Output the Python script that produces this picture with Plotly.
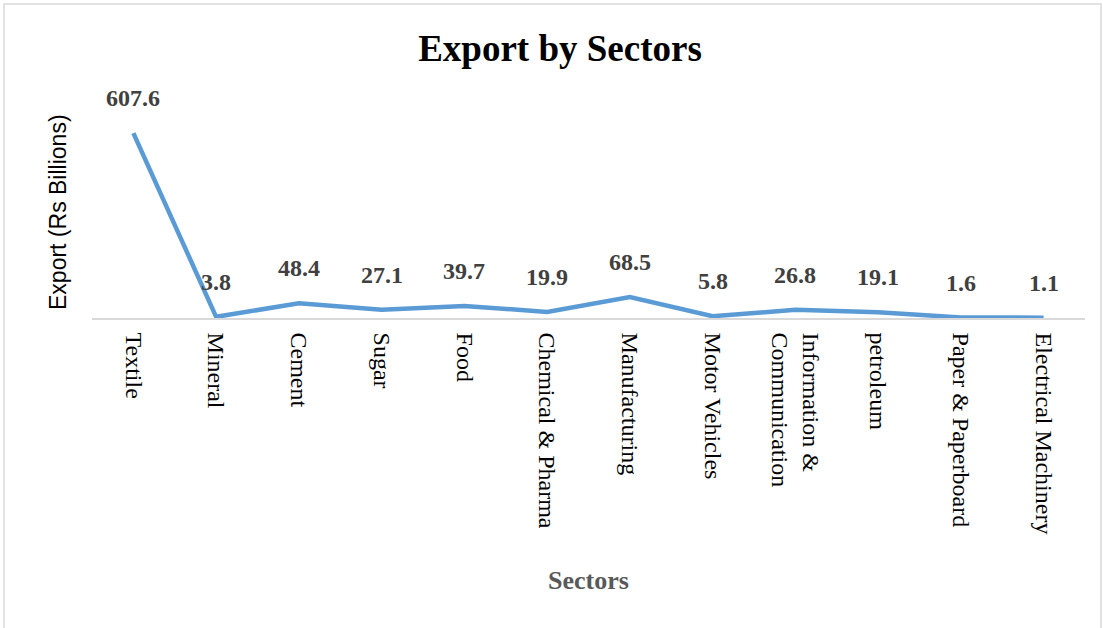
import plotly.graph_objects as go

sectors = [
    "Textile", "Mineral", "Cement", "Sugar", "Food", "Chemical & Pharma",
    "Manufacturing", "Motor Vehicles", "Information &<br>Communication",
    "petroleum", "Paper & Paperboard", "Electrical Machinery",
]
exports = [607.6, 3.8, 48.4, 27.1, 39.7, 19.9, 68.5, 5.8, 26.8, 19.1, 1.6, 1.1]

W, H = 1103, 628
ML, MR, MT, MB = 92, 18, 105, 310
pw, ph = W - ML - MR, H - MT - MB


def px_x(p):
    return (p - ML) / pw


def px_y(p):
    return (H - MB - p) / ph


fig = go.Figure()
fig.add_trace(go.Scatter(
    x=sectors, y=exports, mode="lines",
    line=dict(color="#5B9BD5", width=4.5),
    hoverinfo="x+y",
))

# value labels above each point
for s, v in zip(sectors, exports):
    fig.add_annotation(
        x=s, y=v, text=f"<b>{v}</b>", showarrow=False, yshift=35,
        font=dict(family="Liberation Serif", size=24, color="#404040"),
    )

# axis titles
fig.add_annotation(
    xref="paper", yref="paper", x=px_x(588), y=px_y(580),
    text="<b>Sectors</b>", showarrow=False, xanchor="center", yanchor="middle",
    font=dict(family="Liberation Serif", size=26, color="#595959"),
)
fig.add_annotation(
    xref="paper", yref="paper", x=px_x(58), y=px_y(212),
    text="Export (Rs Billions)", showarrow=False, textangle=-90,
    xanchor="center", yanchor="middle",
    font=dict(family="Liberation Sans", size=23, color="black"),
)

# light frame around the chart area
fig.add_shape(
    type="rect", xref="paper", yref="paper",
    x0=px_x(4), x1=px_x(1101), y0=px_y(700), y1=px_y(4),
    line=dict(color="#D9D9D9", width=1.5), fillcolor="rgba(0,0,0,0)", layer="below",
)

fig.update_layout(
    width=W, height=H,
    margin=dict(l=ML, r=MR, t=MT, b=MB),
    paper_bgcolor="white", plot_bgcolor="white",
    showlegend=False,
    title=dict(
        text="<b>Export by Sectors</b>", x=px_x(560), xref="paper",
        xanchor="center", y=1 - 48 / H, yanchor="middle",
        font=dict(family="Liberation Serif", size=37, color="black"),
    ),
    xaxis=dict(
        type="category", tickangle=90, showgrid=False,
        showline=True, linecolor="#D9D9D9", linewidth=1.5,
        ticks="", ticklabelstandoff=8,
        tickfont=dict(family="Liberation Serif", size=24, color="black"),
        range=[-0.5, len(sectors) - 0.5],
    ),
    yaxis=dict(
        range=[0, 700], showgrid=False, showticklabels=False, zeroline=False,
        showline=False, ticks="",
    ),
)

fig.write_html("out.html")
